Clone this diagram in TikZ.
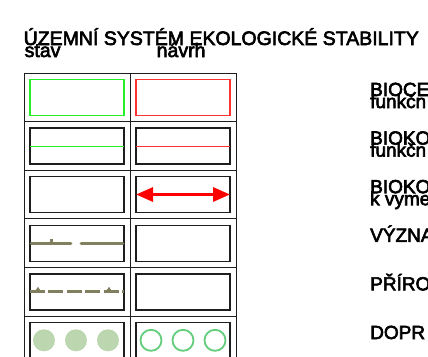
\documentclass[tikz,border=0pt]{standalone}
\usepackage{fontspec}
\setmainfont{Liberation Sans}
\usetikzlibrary{arrows.meta}
\newcommand\heavytext{\special{pdf:literal direct 0 G 0.6 w 2 Tr}}
\definecolor{olivel}{RGB}{128,128,96}
\definecolor{boxgreen}{RGB}{40,240,40}
\definecolor{boxred}{RGB}{255,50,50}
\definecolor{fillgreen}{RGB}{188,214,176}
\definecolor{ringgreen}{RGB}{100,205,125}
\definecolor{gridgray}{RGB}{30,30,30}
\tikzset{
  ttl/.style={inner sep=0pt, anchor=base west, font=\fontsize{19.5}{12}\selectfont\heavytext},
  lbl/.style={inner sep=0pt, anchor=base west, font=\fontsize{19}{12}\selectfont\heavytext},
  gridline/.style={draw=gridgray, line width=1pt},
  innerbox/.style={draw=gridgray, line width=1.3pt},
  oliveline/.style={draw=olivel, line width=2.6pt},
}
\begin{document}
\begin{tikzpicture}[x=1pt,y=-1pt]
\useasboundingbox (0,0) rectangle (428,356);
\clip (0,0) rectangle (428,356);
\fill[white] (0,0) rectangle (428,356);
% titles
\node[ttl] (title) at (23.5,45) {ÚZEMNÍ SYSTÉM EKOLOGICKÉ STABILITY};
\node[ttl] (stav) at (24.5,57) {stav};
\node[ttl] (navrh) at (156.5,57) {návrh};
% grid
\foreach \i in {0,...,5} {
  \draw[gridline] (24,73+48.6*\i) -- (236,73+48.6*\i);
}
\draw[gridline] (24,73) -- (24,360);
\draw[gridline] (130,73) -- (130,360);
\draw[gridline] (236,73) -- (236,360);
% inner boxes
\draw[draw=boxgreen, line width=1.9pt] (30,79.5) rectangle (124,115.5);
\draw[draw=boxred, line width=1.9pt] (136,79.5) rectangle (230,115.5);
\foreach \i in {1,...,5} {
  \draw[innerbox] (30,73+48.6*\i+6.5) rectangle (124,73+48.6*\i+42.5);
  \draw[innerbox] (136,73+48.6*\i+6.5) rectangle (230,73+48.6*\i+42.5);
}
% row 2 lines
\coordinate (g1) at (30,146.1); \coordinate (g2) at (124,146.1);
\coordinate (r1) at (136,146.1); \coordinate (r2) at (230,146.1);
\draw[boxgreen, line width=1.1pt] (g1) -- (g2);
\draw[boxred, line width=1.1pt] (r1) -- (r2);
% row 3 arrow
\coordinate (a1) at (136,194.5); \coordinate (a2) at (230,194.5);
\draw[red, line width=3pt, {Triangle[length=17pt,width=14pt]}-{Triangle[length=17pt,width=14pt]}] (a1) -- (a2);
% row 4 olive line with gap and tick
\draw[oliveline, line cap=round] (31,243.3) -- (71,243.3);
\draw[oliveline, line cap=round] (81,243.3) -- (123,243.3);
\draw[oliveline, line width=3pt] (51,243.3) -- (51,239);
% row 5 dashed line with triangles
\draw[oliveline, dash pattern=on 15pt off 3.4pt] (30,291.7) -- (124,291.7);
\fill[olivel] (34.5,292) -- (38,286.8) -- (41.5,292) -- cycle;
\fill[olivel] (105.5,292) -- (109,286.8) -- (112.5,292) -- cycle;
% row 6 circles
\foreach \x in {44,76,108} { \fill[fillgreen] (\x,340.3) circle[radius=11]; }
\foreach \x in {151,183,215} { \draw[ringgreen, line width=1.8pt] (\x,340.3) circle[radius=10.5]; }
% right labels
\node[lbl] (l1a) at (370,96) {BIOCE};
\node[lbl] (l1b) at (370,108) {funkčn};
\node[lbl] (l2a) at (370,144.6) {BIOKO};
\node[lbl] (l2b) at (370,156.6) {funkčn};
\node[lbl] (l3a) at (370,193.2) {BIOKO};
\node[lbl] (l3b) at (370,205.2) {k vyme};
\node[lbl] (l4) at (370,241.8) {VÝZNA};
\node[lbl] (l5) at (370,290.4) {PŘÍRO};
\node[lbl] (l6) at (370,339) {DOPR};
\end{tikzpicture}
\end{document}
